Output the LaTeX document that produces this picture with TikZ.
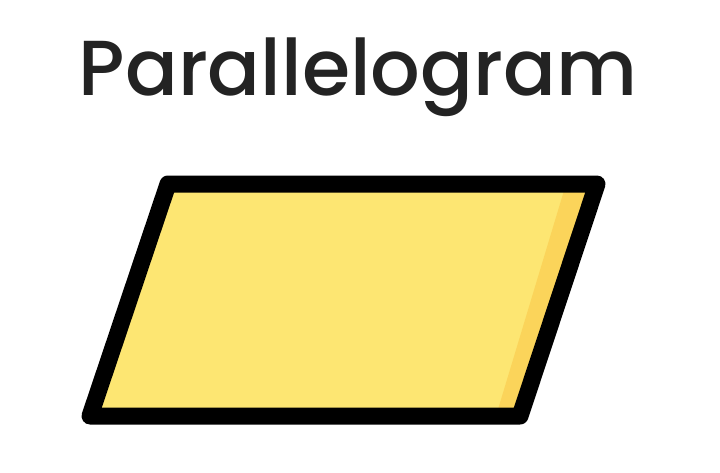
\documentclass[tikz,border=0pt]{standalone}
\usepackage{fontspec}
\newfontfamily\titlefont{Poppins}[UprightFont=* Medium]
\usepackage{tikz}
\definecolor{lightyellow}{HTML}{FDE672}
\definecolor{darkyellow}{HTML}{FBD45A}
\definecolor{titlegray}{HTML}{232323}
\begin{document}
\begin{tikzpicture}[x=1pt,y=-1pt]
  \useasboundingbox (0,0) rectangle (720,472);
  \node[text=titlegray] (title) at (358,77) {\titlefont\fontsize{78}{78}\selectfont Parallelogram};
  \coordinate (tl) at (168,184);
  \coordinate (tr) at (597,184);
  \coordinate (br) at (520,416);
  \coordinate (bl) at (90,416);
  \fill[lightyellow] (tl) -- (tr) -- (br) -- (bl) -- cycle;
  \fill[darkyellow] (566,184) -- (tr) -- (br) -- (496,416) -- cycle;
  \draw[line width=17pt, line join=round] (tl) -- (tr) -- (br) -- (bl) -- cycle;
\end{tikzpicture}
\end{document}
